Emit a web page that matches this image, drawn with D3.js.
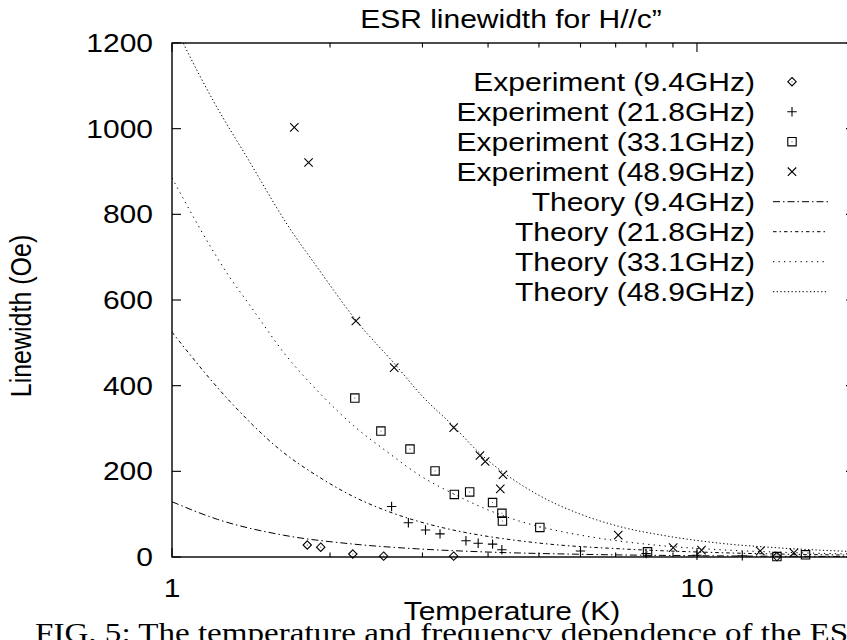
<!DOCTYPE html>
<html>
<head>
<meta charset="utf-8">
<script src="https://cdn.jsdelivr.net/npm/d3@7"></script>
<style>
  html, body { margin: 0; padding: 0; background: #fff; }
  svg { display: block; }
</style>
</head>
<body>
<svg id="chart" width="847" height="640"></svg>
<script>
// ---------------- data ----------------
const titleText = "ESR linewidth for H//c\u201D";
const xLabelText = "Temperature (K)";
const yLabelText = "Linewidth (Oe)";
const captionText = "FIG. 5: The temperature and frequency dependence of the ESR";

const yTicks = [0, 200, 400, 600, 800, 1000, 1200];
const yTickLabels = ["0", "200", "400", "600", "800", "1000", "1200"];
const xMajorTicks = [1, 10];
const xMajorLabels = ["1", "10"];
const xMinorTicks = [2, 3, 4, 5, 6, 7, 8, 9, 20];

// Experiment 9.4 GHz (diamonds)
const exp94T = [1.81, 1.92, 2.21, 2.53, 3.44, 14.2];
const exp94W = [28, 23, 7, 2, 2, 1];
// Experiment 21.8 GHz (plus)
const exp218T = [2.62, 2.82, 3.04, 3.24, 3.63, 3.83, 4.08, 4.25, 6.0, 8.0, 10.0, 12.2];
const exp218W = [118, 80, 63, 54, 38, 32, 30, 17, 14, 8, 4, 3];
// Experiment 33.1 GHz (squares)
const exp331T = [2.23, 2.50, 2.84, 3.17, 3.45, 3.69, 4.08, 4.25, 4.26, 5.02, 8.05, 14.2, 16.1];
const exp331W = [371, 294, 252, 201, 146, 152, 127, 102, 84, 69, 12, 1, 5];
// Experiment 48.9 GHz (crosses)
const exp489T = [1.71, 1.82, 2.24, 2.65, 3.44, 3.86, 3.95, 4.27, 4.22, 7.08, 9.01, 10.2, 13.2, 15.3];
const exp489W = [1003, 921, 551, 442, 302, 237, 223, 192, 159, 51, 22, 16, 14, 10];

// Theory curves
const th94T = [1.0, 1.22, 1.63, 2.18, 2.92, 3.91, 6.0, 10.0, 20.0];
const th94W = [129, 88, 51, 31, 19.2, 12, 6.3, 3.0, 1.1];
const th218T = [1.0, 1.29, 1.6, 1.91, 2.2, 2.56, 2.95, 3.43, 4.0, 4.6, 5.25, 7.14, 11.0, 20.0];
const th218W = [525, 363, 252, 186, 143, 108, 83, 63, 48, 37.7, 29.9, 19.1, 10.2, 4.3];
const th331T = [1.0, 1.29, 1.41, 1.65, 1.91, 2.22, 2.56, 2.97, 3.43, 3.98, 4.6, 5.3, 6.2, 8.24, 11.0, 14.5, 20.0];
const th331W = [885, 652, 586, 470, 383, 306, 247, 190, 148, 111, 83.5, 64, 48, 28.4, 17.1, 11.1, 6.8];
const th489T = [1.0, 1.05, 1.2, 1.41, 1.65, 1.91, 2.25, 2.65, 3.0, 3.44, 3.85, 4.27, 5.0, 6.0, 7.1, 8.8, 11.0, 14.5, 20.0];
const th489W = [1254, 1200, 1064, 920, 780, 669, 550, 452, 375, 305, 243, 198, 144, 100, 71.5, 48.6, 32.5, 20.9, 12.5];

const expLabels = ["Experiment (9.4GHz)", "Experiment (21.8GHz)", "Experiment (33.1GHz)", "Experiment (48.9GHz)"];
const theoryLabels = ["Theory (9.4GHz)", "Theory (21.8GHz)", "Theory (33.1GHz)", "Theory (48.9GHz)"];

// ---------------- drawing ----------------
const svg = d3.select("#chart");
const FONT = "'Liberation Sans', Arial, Helvetica, sans-serif";
const FS = 25, SX = 1.2;

const x = d3.scaleLog().domain([1, 20]).range([172, 855]);
const y = d3.scaleLinear().domain([0, 1200]).range([557, 43]);

function stext(str, tx, ty, anchor, extra) {
  return svg.append("text")
    .attr("transform", `translate(${tx},${ty}) scale(${SX},1)` + (extra || ""))
    .attr("text-anchor", anchor)
    .attr("font-family", FONT)
    .attr("font-size", FS)
    .attr("fill", "#000")
    .text(str);
}

// clip for plot area
svg.append("defs").append("clipPath").attr("id", "plotclip")
  .append("rect").attr("x", 172).attr("y", 43).attr("width", 683).attr("height", 514);

// theory curves
const theory = [
  { T: th94T, W: th94W, dash: "7,3,1.5,3" },
  { T: th218T, W: th218W, dash: "3.5,3,1.5,3" },
  { T: th331T, W: th331W, dash: "1.3,4.2" },
  { T: th489T, W: th489W, dash: "1.3,2.4" }
];
const line = d3.line().x(d => x(d[0])).y(d => y(d[1])).curve(d3.curveMonotoneX);
const gCurves = svg.append("g").attr("clip-path", "url(#plotclip)");
theory.forEach(s => {
  gCurves.append("path")
    .datum(s.T.map((t, i) => [t, s.W[i]]))
    .attr("d", line)
    .attr("fill", "none")
    .attr("stroke", "#000")
    .attr("stroke-width", 1)
    .attr("stroke-dasharray", s.dash);
});

// marker shapes
const R = 4.2;
const shapes = {
  diamond: `M0,${-R}L${R},0L0,${R}L${-R},0Z`,
  plus: `M${-R - 0.5},0H${R + 0.5}M0,${-R - 0.5}V${R + 0.5}`,
  square: `M${-R},${-R}H${R}V${R}H${-R}Z`,
  cross: `M${-R},${-R}L${R},${R}M${-R},${R}L${R},${-R}`
};
const dotted = { diamond: true, plus: false, square: true, cross: false };

function marker(g, kind, cx, cy) {
  g.append("path")
    .attr("transform", `translate(${cx},${cy})`)
    .attr("d", shapes[kind])
    .attr("fill", "none")
    .attr("stroke", "#000")
    .attr("stroke-width", 1.1);
  if (dotted[kind]) {
    g.append("rect").attr("x", cx - 0.5).attr("y", cy - 0.5)
      .attr("width", 1).attr("height", 1).attr("fill", "#555");
  }
}

const experiments = [
  { T: exp94T, W: exp94W, kind: "diamond" },
  { T: exp218T, W: exp218W, kind: "plus" },
  { T: exp331T, W: exp331W, kind: "square" },
  { T: exp489T, W: exp489W, kind: "cross" }
];
const gPts = svg.append("g");
experiments.forEach(s => {
  s.T.forEach((t, i) => marker(gPts, s.kind, x(t), y(s.W[i])));
});

// frame
svg.append("rect").attr("x", 172).attr("y", 43).attr("width", 683).attr("height", 514)
  .attr("fill", "none").attr("stroke", "#000").attr("stroke-width", 1.4);

// ticks
const gT = svg.append("g").attr("stroke", "#000").attr("stroke-width", 1.1);
yTicks.forEach(v => {
  gT.append("line").attr("x1", 172).attr("x2", 181).attr("y1", y(v)).attr("y2", y(v));
  gT.append("line").attr("x1", 855).attr("x2", 846).attr("y1", y(v)).attr("y2", y(v));
});
xMajorTicks.forEach(v => {
  gT.append("line").attr("x1", x(v)).attr("x2", x(v)).attr("y1", 557).attr("y2", 548);
  gT.append("line").attr("x1", x(v)).attr("x2", x(v)).attr("y1", 43).attr("y2", 52);
});
xMinorTicks.forEach(v => {
  gT.append("line").attr("x1", x(v)).attr("x2", x(v)).attr("y1", 557).attr("y2", 552.5);
  gT.append("line").attr("x1", x(v)).attr("x2", x(v)).attr("y1", 43).attr("y2", 47.5);
});

// tick labels
yTicks.forEach((v, i) => stext(yTickLabels[i], 153, y(v) + 9, "end"));
xMajorTicks.forEach((v, i) => stext(xMajorLabels[i], x(v), 597, "middle"));

// titles
stext(titleText, 511, 28, "middle");
stext(xLabelText, 512, 620, "middle");
stext(yLabelText, 31, 316, "middle", " rotate(-90)");

// legend
const legX = 755, legY0 = 81.7, legDY = 30;
expLabels.forEach((lab, i) => {
  const cy = legY0 + i * legDY;
  stext(lab, legX, cy + 9, "end");
  marker(svg, experiments[i].kind, 792, cy);
});
theoryLabels.forEach((lab, i) => {
  const cy = legY0 + (i + 4) * legDY;
  stext(lab, legX, cy + 9, "end");
  svg.append("line").attr("x1", 773).attr("x2", 828).attr("y1", cy).attr("y2", cy)
    .attr("stroke", "#000").attr("stroke-width", 1).attr("stroke-dasharray", theory[i].dash);
});

// caption (cut off at the bottom of the page, as in the reference)
svg.append("text")
  .attr("transform", `translate(35,642) scale(${SX},1)`)
  .attr("font-family", "'Liberation Serif', 'DejaVu Serif', serif")
  .attr("font-size", 27)
  .attr("textLength", 696)
  .attr("lengthAdjust", "spacingAndGlyphs")
  .attr("fill", "#000")
  .text(captionText);
</script>
</body>
</html>
